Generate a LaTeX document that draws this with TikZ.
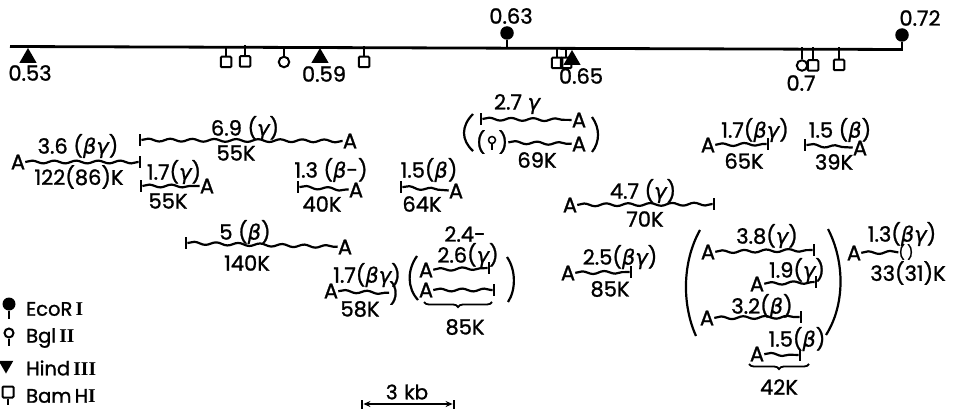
\documentclass[tikz,border=0pt]{standalone}
\usepackage{fontspec}
\setmainfont{Poppins}[FakeBold=1.2]
\newfontfamily\greekfont{DejaVu Sans}[FakeBold=0.8]
\newfontfamily\romanfont{Liberation Serif}
\usetikzlibrary{shapes.geometric, decorations.pathmorphing, decorations.pathreplacing, arrows.meta}
\newcommand{\bt}{{\greekfont\itshape β}}
\newcommand{\gm}{{\greekfont\itshape γ}}
\newcommand{\rn}[1]{{\romanfont\bfseries #1}}
\tikzset{
  lbl/.style={inner sep=0pt, font=\fontsize{21}{23}\selectfont},
  polya/.style={lbl},
  tick/.style={fill=black, inner sep=0pt, minimum width=2.4pt, minimum height=12pt},
  wavy/.style={line width=2.2pt, decorate, decoration={snake, amplitude=1.4pt, segment length=22pt}},
  maprule/.style={line width=2.8pt},
  stem/.style={line width=1.8pt},
  hindsite/.style={regular polygon, regular polygon sides=3, fill=black, inner sep=0pt, minimum size=20pt},
  bamsite/.style={draw, line width=2pt, rounded corners=1pt, inner sep=0pt, minimum size=10.5pt},
  bglsite/.style={draw, circle, line width=2pt, inner sep=0pt, minimum size=10.5pt},
  ecosite/.style={circle, fill=black, inner sep=0pt, minimum size=13.5pt},
  parenline/.style={line width=2.2pt},
  brc/.style={line width=1.8pt, decorate, decoration={brace, mirror, amplitude=5pt}},
  legendtext/.style={lbl, anchor=west, font=\fontsize{19.5}{21}\selectfont}
}
\begin{document}
\begin{tikzpicture}[x=1pt, y=-1pt]
    \useasboundingbox (0,0) rectangle (955,409);
    \coordinate (ml) at (10,46.5);
    \coordinate (mr) at (902,49.5);
    \draw[maprule] (ml) -- (mr);
    \node[hindsite] (h1) at (28,58) {};
    \node[hindsite] (h2) at (320,58) {};
    \node[hindsite] (h3) at (572,60) {};
    \node[bamsite] (b1) at (226,62) {};
    \node[bamsite] (b2) at (245,61.5) {};
    \node[bamsite] (b3) at (364,62) {};
    \node[bamsite] (b4) at (557,63) {};
    \node[bamsite] (b5) at (566,63) {};
    \node[bamsite] (b6) at (813,65.5) {};
    \node[bamsite] (b7) at (839,65) {};
    \node[bglsite] (g1) at (284,62) {};
    \node[bglsite] (g2) at (802,65.5) {};
    \node[ecosite] (e1) at (507,33) {};
    \node[ecosite] (e2) at (902,35) {};
    \draw[stem] (b1.north) -- ++(0,-10);
    \draw[stem] (b2.north) -- ++(0,-10);
    \draw[stem] (b3.north) -- ++(0,-10);
    \draw[stem] (b4.north) -- ++(0,-10);
    \draw[stem] (b5.north) -- ++(0,-10);
    \draw[stem] (b6.north) -- ++(0,-12);
    \draw[stem] (b7.north) -- ++(0,-12);
    \draw[stem] (g1.north) -- ++(0,-10);
    \draw[stem] (g2.north) -- ++(0,-12);
    \draw[stem] (e1.south) -- ++(0,9);
    \draw[stem] (e2.south) -- ++(0,9);
    \node[lbl] (m53) at (30,73) {0.53};
    \node[lbl] (m59) at (324,74) {0.59};
    \node[lbl] (m63) at (511,16) {0.63};
    \node[lbl] (m65) at (581,76) {0.65};
    \node[lbl] (m70) at (801,83) {0.7};
    \node[lbl] (m72) at (920,18) {0.72};

    \node[lbl] (l1) at (78,146) {3.6 (\bt\gm)};
    \node[polya] (a1) at (18,162) {A};
    \node[tick] (t1) at (140,162) {};
    \draw[wavy] (a1) -- (t1);
    \node[lbl] (k1) at (79,177) {122(86)K};

    \node[lbl] (l2) at (245,128) {6.9 (\gm)};
    \node[tick] (t2) at (140,140) {};
    \node[polya] (a2) at (350,141) {A};
    \draw[wavy] (t2) -- (a2);
    \node[lbl] (k2) at (236,153) {55K};

    \node[lbl] (l3) at (174,172) {1.7(\gm)};
    \node[tick] (t3) at (141,186) {};
    \node[polya] (a3) at (207,186) {A};
    \draw[wavy] (t3) -- (a3);
    \node[lbl] (k3) at (168,201) {55K};

    \node[lbl] (l4) at (331,170) {1.3 (\bt-)};
    \node[tick] (t4) at (298,187) {};
    \node[polya] (a4) at (356,190) {A};
    \draw[wavy] (t4) -- (a4);
    \node[lbl] (k4) at (322,204) {40K};

    \node[lbl] (l5) at (429,170) {1.5(\bt)};
    \node[tick] (t5) at (401,187) {};
    \node[polya] (a5) at (456,191) {A};
    \draw[wavy] (t5) -- (a5);
    \node[lbl] (k5) at (422,204) {64K};

    \node[lbl] (l6) at (517,104) {2.7 \gm};
    \node[tick] (t6) at (481,119) {};
    \node[polya] (a6) at (579,120) {A};
    \draw[wavy] (t6) -- (a6);
    \node[lbl] (p6) at (492,142) {(\phantom{0})};
    \node[bglsite, minimum size=7pt, line width=1.5pt] (g3) at (492,140) {};
    \draw[stem] (g3.south) -- ++(0,6);
    \node[polya] (a7) at (579,144) {A};
    \draw[wavy] (p6) -- (a7);
    \node[lbl] (k7) at (537,160) {69K};
    \draw[parenline] (473,114) .. controls (461,126) and (461,140) .. (473,151);
    \draw[parenline] (592,117) .. controls (600,128) and (600,142) .. (592,152);

    \node[lbl] (l8) at (755,130) {1.7(\bt\gm)};
    \node[polya] (a8) at (708,145) {A};
    \node[tick] (t8) at (768,144) {};
    \draw[wavy] (a8) -- (t8);
    \node[lbl] (k8) at (744,161) {65K};

    \node[lbl] (l9) at (840,130) {1.5 (\bt)};
    \node[tick] (t9) at (805,145) {};
    \node[polya] (a9) at (860,148) {A};
    \draw[wavy] (t9) -- (a9);
    \node[lbl] (k9) at (834,162) {39K};

    \node[lbl] (l10) at (643,191) {4.7 (\gm)};
    \node[polya] (a10) at (570,205) {A};
    \node[tick] (t10) at (714,204) {};
    \draw[wavy] (a10) -- (t10);
    \node[lbl] (k10) at (645,219) {70K};

    \node[lbl] (l11) at (245,232) {5 (\bt)};
    \node[tick] (t11) at (186,243) {};
    \node[polya] (a11) at (345,247) {A};
    \draw[wavy] (t11) -- (a11);
    \node[lbl] (k11) at (247,263) {140K};

    \node[lbl] (l12) at (367,275) {1.7(\bt\gm)};
    \node[polya] (a12) at (331,291) {A};
    \node[lbl] (c12) at (394,293) {)};
    \draw[wavy] (a12) -- (c12);
    \node[lbl] (k12) at (360,309) {58K};

    \node[lbl] (l13) at (465,234) {2.4-};
    \node[lbl] (l14) at (468,255) {2.6(\gm)};
    \node[polya] (a13) at (426,270) {A};
    \node[tick] (t13) at (489,268) {};
    \draw[wavy] (a13) -- (t13);
    \node[polya] (a14) at (426,290) {A};
    \node[tick] (t14) at (494,290) {};
    \draw[wavy] (a14) -- (t14);
    \coordinate (br1) at (424,302);
    \coordinate (br2) at (492,302);
    \draw[brc] (br1) -- (br2);
    \node[lbl] (k14) at (465,327) {85K};
    \draw[parenline] (417,256) .. controls (407,270) and (407,288) .. (418,300);
    \draw[parenline] (507,257) .. controls (516,270) and (516,290) .. (508,302);

    \node[lbl] (l15) at (620,257) {2.5(\bt\gm)};
    \node[polya] (a15) at (568,273) {A};
    \node[tick] (t15) at (631,272) {};
    \draw[wavy] (a15) -- (t15);
    \node[lbl] (k15) at (610,289) {85K};

    \draw[parenline] (700,230) .. controls (682,262) and (682,305) .. (696,336);
    \draw[parenline] (828,229) .. controls (845,262) and (845,305) .. (826,335);
    \node[lbl] (l16) at (767,236) {3.8(\gm)};
    \node[polya] (a16) at (708,252) {A};
    \node[tick] (t16) at (814,250) {};
    \draw[wavy] (a16) -- (t16);
    \node[lbl] (l17) at (797,270) {1.9(\gm)};
    \node[polya] (a17) at (757,284) {A};
    \node[tick] (t17) at (816,282) {};
    \draw[wavy] (a17) -- (t17);
    \node[lbl] (l18) at (762,306) {3.2(\bt)};
    \node[polya] (a18) at (707,318) {A};
    \node[tick] (t18) at (801,317) {};
    \draw[wavy] (a18) -- (t18);
    \node[lbl] (l19) at (797,339) {1.5(\bt)};
    \node[polya] (a19) at (757,354) {A};
    \node[tick] (t19) at (800,355) {};
    \draw[wavy] (a19) -- (t19);
    \coordinate (br3) at (749,364);
    \coordinate (br4) at (809,364);
    \draw[brc] (br3) -- (br4);
    \node[lbl] (k19) at (779,387) {42K};

    \node[lbl] (l20) at (902,234) {1.3(\bt\gm)};
    \node[polya] (a20) at (854,253) {A};
    \node[lbl, font=\fontsize{14}{15}\selectfont] (c20) at (906,252) {(\,)};
    \draw[wavy] (a20) -- (c20);
    \node[lbl] (k20) at (908,273) {33(31)K};

    \node[ecosite, minimum size=13pt] (le) at (9,304) {};
    \draw[line width=2.4pt] (le.south) -- ++(0,8);
    \node[legendtext] (te) at (26,309) {EcoR\,\rn{I}};
    \node[bglsite, minimum size=9pt] (lg) at (9,333) {};
    \draw[stem] (lg.south) -- ++(0,7);
    \node[legendtext] (tg) at (26,338) {Bgl\,\rn{II}};
    \node[hindsite, shape border rotate=180, minimum size=17pt] (lh) at (6,365) {};
    \node[legendtext] (th) at (26,368) {Hind\,\rn{III}};
    \node[bamsite, minimum size=11pt] (lb) at (8,392) {};
    \draw[stem] (lb.south) -- ++(0,6);
    \node[legendtext] (tb) at (26,396) {Bam\,H\rn{I}};

    \node[lbl, font=\fontsize{20}{22}\selectfont] (sb) at (407,392) {3\,\,kb};
    \node[tick, minimum height=9pt] (s1) at (362,404) {};
    \node[tick, minimum height=9pt] (s2) at (454,404) {};
    \draw[stem, {Stealth[length=7pt,width=6pt]}-{Stealth[length=7pt,width=6pt]}] (s1) -- (s2);
\end{tikzpicture}
\end{document}
